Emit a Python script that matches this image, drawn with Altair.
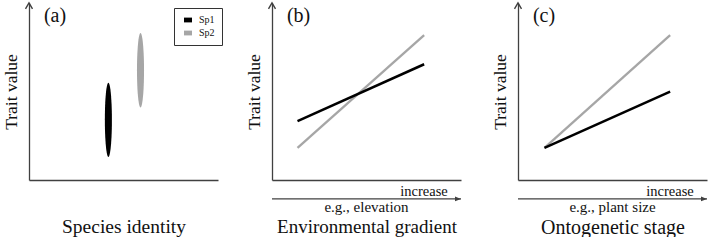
import altair as alt
import pandas as pd

FONT = "Liberation Serif, Times New Roman, Times, serif"
AXIS_COLOR = "#404040"

# ---- data ----
species = ["Sp1", "Sp2"]
species_colors = ["#000000", "#a6a6a6"]

# panel (a): trait range per species
species_pos = [4.2, 5.9]
trait_low = [1.3, 4.1]
trait_high = [5.5, 8.3]

# panel (b): environmental gradient
gradient_x = [1.35, 8.05]
grad_sp1 = [3.33, 6.54]
grad_sp2 = [1.82, 8.19]

# panel (c): ontogenetic stage
stage_x = [1.4, 8.05]
stage_sp1 = [1.82, 4.99]
stage_sp2 = [1.82, 8.19]

panel_labels = ["(a)", "(b)", "(c)"]
x_titles = ["Species identity", "Environmental gradient", "Ontogenetic stage"]
examples = ["e.g., elevation", "e.g., plant size"]
increase_label = "increase"
y_title = "Trait value"

# ---- shapes / styles ----
ELLIPSE = ("M0,-1 C0.0525,-1 0.095,-0.5523 0.095,0 C0.095,0.5523 0.0525,1 0,1 "
           "C-0.0525,1 -0.095,0.5523 -0.095,0 C-0.095,-0.5523 -0.0525,-1 0,-1 Z")
CHEVRON = "M-1,1.7 L0,0 L1,1.7"
ARROWHEAD = "M0,0 L-2,-0.8 L-2,0.8 Z"
RECT = "M-1,-0.6 L1,-0.6 L1,0.6 L-1,0.6 Z"

W, H = 189, 177
xs = alt.Scale(domain=[0, 10], nice=False, zero=False)
ys = alt.Scale(domain=[0, 10], nice=False, zero=False)


def make_axes(title, size):
    ax_x = alt.Axis(domain=True, ticks=False, labels=False, grid=False,
                    domainColor=AXIS_COLOR, domainWidth=1.3, title=title,
                    titleFont=FONT, titleFontSize=size, titleFontWeight="normal",
                    titleColor="#111", titlePadding=37)
    ax_y = alt.Axis(domain=True, ticks=False, labels=False, grid=False,
                    domainColor=AXIS_COLOR, domainWidth=1.3, title=y_title,
                    titleFont=FONT, titleFontSize=17.5, titleFontWeight="normal",
                    titleColor="#111", titlePadding=9)
    return ax_x, ax_y


def common_layers(label, ax_x, ax_y, with_arrow, example=None):
    layers = []
    top = pd.DataFrame({"x": [0], "y": [10]})
    layers.append(alt.Chart(top).mark_point(
        shape=CHEVRON, filled=False, size=49, stroke=AXIS_COLOR, strokeWidth=1.4, opacity=1
    ).encode(x=alt.X("x:Q", scale=xs, axis=ax_x), y=alt.Y("y:Q", scale=ys, axis=ax_y)))
    lab = pd.DataFrame({"x": [0.79], "y": [8.95], "t": [label]})
    layers.append(alt.Chart(lab).mark_text(
        font=FONT, fontSize=20, align="left", baseline="alphabetic", color="#111"
    ).encode(x=alt.X("x:Q", scale=xs, axis=ax_x), y=alt.Y("y:Q", scale=ys, axis=ax_y), text="t:N"))
    if with_arrow:
        arr = pd.DataFrame({"x": [0], "x2": [10], "y": [-1.07]})
        layers.append(alt.Chart(arr).mark_rule(color=AXIS_COLOR, strokeWidth=1.3).encode(
            x=alt.X("x:Q", scale=xs, axis=ax_x), x2="x2:Q",
            y=alt.Y("y:Q", scale=ys, axis=ax_y)))
        layers.append(alt.Chart(arr).mark_point(
            shape=ARROWHEAD, filled=True, size=36, color=AXIS_COLOR, opacity=1, strokeWidth=0
        ).encode(x=alt.X("x2:Q", scale=xs, axis=ax_x), y=alt.Y("y:Q", scale=ys, axis=ax_y)))
        inc = pd.DataFrame({"x": [9.3], "y": [-0.93], "t": [increase_label]})
        layers.append(alt.Chart(inc).mark_text(
            font=FONT, fontSize=14.5, align="right", baseline="alphabetic", color="#111"
        ).encode(x=alt.X("x:Q", scale=xs, axis=ax_x), y=alt.Y("y:Q", scale=ys, axis=ax_y), text="t:N"))
        ex = pd.DataFrame({"x": [5.0], "y": [-1.81], "t": [example]})
        layers.append(alt.Chart(ex).mark_text(
            font=FONT, fontSize=15, align="center", baseline="alphabetic", color="#111"
        ).encode(x=alt.X("x:Q", scale=xs, axis=ax_x), y=alt.Y("y:Q", scale=ys, axis=ax_y), text="t:N"))
    return layers


# ---- panel (a) ----
ax_x, ax_y = make_axes(x_titles[0], 19.5)
ell_df = pd.DataFrame({"species": species, "x": species_pos, "low": trait_low, "high": trait_high})
ellipses = alt.Chart(ell_df).transform_calculate(
    mid="(datum.low + datum.high) / 2"
).mark_point(shape=ELLIPSE, filled=True, size=5520, opacity=1, strokeWidth=0).encode(
    x=alt.X("x:Q", scale=xs, axis=ax_x),
    y=alt.Y("mid:Q", scale=ys, axis=ax_y),
    color=alt.Color("species:N", scale=alt.Scale(domain=species, range=species_colors),
                    legend=alt.Legend(title=None, orient="none", legendX=145, legendY=5,
                                      symbolType=RECT, symbolSize=64, symbolStrokeWidth=0,
                                      labelFont=FONT, labelFontSize=10, labelColor="#111",
                                      strokeColor="#333", fillColor="white", padding=7,
                                      symbolOffset=2, labelOffset=6, rowPadding=3,
                                      cornerRadius=0)),
)
panel_a = alt.layer(*common_layers(panel_labels[0], ax_x, ax_y, False), ellipses).properties(
    width=W, height=H)


def line_panel(xvals, sp1, sp2, label, xtitle, title_size, example):
    ax_x, ax_y = make_axes(xtitle, title_size)
    d1 = pd.DataFrame({"x": xvals, "y": sp1})
    d2 = pd.DataFrame({"x": xvals, "y": sp2})
    l2 = alt.Chart(d2).mark_line(color=species_colors[1], strokeWidth=2.3).encode(
        x=alt.X("x:Q", scale=xs, axis=ax_x), y=alt.Y("y:Q", scale=ys, axis=ax_y))
    l1 = alt.Chart(d1).mark_line(color=species_colors[0], strokeWidth=2.5).encode(
        x=alt.X("x:Q", scale=xs, axis=ax_x), y=alt.Y("y:Q", scale=ys, axis=ax_y))
    return alt.layer(*common_layers(label, ax_x, ax_y, True, example), l2, l1).properties(
        width=W, height=H)


panel_b = line_panel(gradient_x, grad_sp1, grad_sp2, panel_labels[1], x_titles[1], 19, examples[0])
panel_c = line_panel(stage_x, stage_sp1, stage_sp2, panel_labels[2], x_titles[2], 20, examples[1])

inner = alt.hconcat(panel_a, panel_b, spacing=22).resolve_scale(color="independent")
chart = alt.hconcat(inner, panel_c, spacing=29).resolve_scale(color="independent").properties(
    padding={"left": 2, "top": 0, "right": 0, "bottom": 0},
    background="white"
).configure_view(stroke=None)

chart.save("out.html", embed_options={"renderer": "svg", "actions": False})
